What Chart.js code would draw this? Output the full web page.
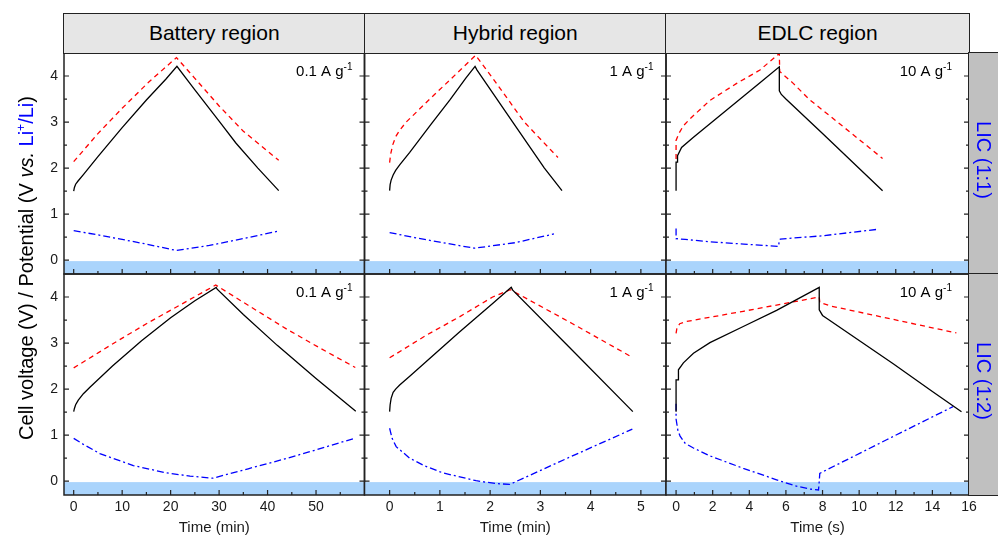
<!DOCTYPE html>
<html>
<head>
<meta charset="utf-8">
<script src="https://cdn.jsdelivr.net/npm/chart.js@4.4.1/dist/chart.umd.min.js"></script>
<style>
body{margin:0;background:#fff;font-family:Arial,"Liberation Sans",sans-serif}
#wrap{position:relative;width:998px;height:538px;overflow:hidden}
canvas{position:absolute;left:0;top:0}
.head{position:absolute;box-sizing:border-box;background:#e6e6e6;border:1.5px solid #222;font-size:21px;text-align:center;color:#000}
.side{position:absolute;box-sizing:border-box;background:#c0c0c0;border:1.5px solid #222;border-right:none}
.rot{position:absolute;white-space:nowrap;text-align:center}
</style>
</head>
<body>
<div id="wrap"></div>
<script>
// facets
var regions = ['Battery region', 'Hybrid region', 'EDLC region']
var cells = ['LIC (1:1)', 'LIC (1:2)']
var rates = ['0.1 A g', '1 A g', '10 A g']
var xTitles = ['Time (min)', 'Time (min)', 'Time (s)']

// tick labels
var yTicks = [0, 1, 2, 3, 4]
var yMinor = [0.5, 1.5, 2.5, 3.5]
var xTicksMin = [0, 10, 20, 30, 40, 50]
var xMinorMin = [5, 15, 25, 35, 45, 55]
var xTicksHyb = [0, 1, 2, 3, 4, 5]
var xMinorHyb = [0.5, 1.5, 2.5, 3.5, 4.5]
var xTicksSec = [0, 2, 4, 6, 8, 10, 12, 14, 16]
var xMinorSec = [1, 3, 5, 7, 9, 11, 13, 15]

// LIC (1:1) - [time, potential]
var batCell11 = [[0,1.50],[0.15,1.58],[0.4,1.65],[0.9,1.72],[2,1.86],[5,2.25],[10,2.88],[15,3.48],[19,3.93],[21.3,4.21],[25,3.70],[30,3.02],[33.5,2.54],[38,2.0],[42.3,1.51]]
var batPos11 = [[0,2.14],[5,2.75],[10,3.3],[15.5,3.87],[21.2,4.40],[25,3.95],[30,3.35],[35,2.8],[42.3,2.17]]
var batNeg11 = [[0,0.64],[5,0.55],[10,0.45],[15,0.35],[21.2,0.21],[28,0.32],[35,0.47],[42.2,0.63]]

var hybCell11 = [[0,1.51],[0.01,1.64],[0.03,1.74],[0.07,1.85],[0.12,1.95],[0.2,2.07],[0.4,2.34],[0.83,2.96],[1.2,3.48],[1.52,3.96],[1.70,4.21],[1.74,4.13],[2.45,3.0],[3.08,2.0],[3.43,1.51]]
var hybPos11 = [[0,2.12],[0.02,2.3],[0.06,2.5],[0.12,2.68],[0.2,2.82],[0.33,3.0],[0.8,3.5],[1.3,4.02],[1.71,4.45],[2.02,4.0],[2.68,3.0],[3.35,2.23]]
var hybNeg11 = [[0,0.60],[0.5,0.49],[1.0,0.39],[1.69,0.26],[2.5,0.38],[3.27,0.57]]

var edlcCell11 = [[0,1.51],[0,2.13],[0.08,2.13],[0.08,2.27],[0.3,2.45],[0.95,2.67],[2.2,3.08],[3.5,3.5],[4.6,3.86],[5.64,4.2],[5.64,3.68],[5.75,3.6],[6.0,3.5],[8,2.75],[11.28,1.51]]
var edlcPos11 = [[0,2.2],[0,2.6],[0.15,2.75],[0.4,2.92],[0.76,3.07],[1.85,3.47],[3.31,3.84],[4.58,4.13],[5.64,4.49],[5.66,4.1],[6.4,3.84],[7.31,3.48],[9.13,2.9],[11.28,2.21]]
var edlcNeg11 = [[0,0.69],[0,0.47],[0.5,0.45],[1.85,0.40],[3.7,0.35],[5.6,0.30],[5.64,0.44],[5.7,0.46],[8,0.53],[11.0,0.67]]

// LIC (1:2)
var batCell12 = [[0,1.51],[0.15,1.58],[0.4,1.66],[0.95,1.76],[2,1.9],[3.35,2.04],[8,2.5],[14,3.05],[20,3.55],[25,3.92],[29.4,4.21],[29.6,4.17],[35,3.62],[42,2.95],[50,2.23],[58.2,1.52]]
var batPos12 = [[0,2.46],[8,2.98],[15,3.42],[22,3.83],[29.3,4.26],[36,3.82],[44,3.3],[51,2.88],[58.1,2.47]]
var batNeg12 = [[0,0.93],[2,0.8],[5.4,0.6],[12.3,0.34],[19.1,0.18],[24,0.11],[28.7,0.065],[36,0.27],[43.1,0.47],[50,0.68],[57.9,0.93]]

var hybCell12 = [[0,1.51],[0.01,1.66],[0.03,1.80],[0.07,1.93],[0.12,2.0],[0.2,2.09],[0.4,2.28],[0.73,2.6],[1.39,3.24],[2.05,3.86],[2.42,4.21],[2.45,4.15],[3.64,2.84],[4.84,1.51]]
var hybPos12 = [[0,2.68],[0.73,3.17],[1.39,3.57],[2.05,4.0],[2.40,4.16],[3.64,3.42],[4.83,2.69]]
var hybNeg12 = [[0,1.15],[0.05,0.93],[0.13,0.75],[0.4,0.50],[0.7,0.33],[1.06,0.18],[1.72,0.01],[2.1,-0.05],[2.39,-0.07],[3.6,0.53],[4.83,1.13]]

var edlcCell12 = [[0,1.51],[0,2.20],[0.13,2.20],[0.13,2.42],[0.4,2.57],[0.95,2.78],[1.85,3.01],[3.67,3.36],[5.49,3.71],[7.82,4.21],[7.82,3.72],[8.0,3.6],[8.22,3.54],[11.86,2.55],[14,1.95],[15.59,1.51]]
var edlcPos12 = [[0,3.21],[0.05,3.33],[0.2,3.42],[0.58,3.47],[3.67,3.69],[7.82,4.0],[7.85,3.88],[8.5,3.8],[15.31,3.22]]
var edlcNeg12 = [[0,1.68],[0,1.35],[0.1,1.1],[0.22,0.98],[0.5,0.82],[0.95,0.72],[1.85,0.55],[3.67,0.28],[5.49,0.03],[6.5,-0.10],[7.31,-0.17],[7.78,-0.19],[7.82,0.0],[7.85,0.17],[11.5,0.9],[15.13,1.62]]

// layout
var colX = [64, 364.5, 666, 969]
var rowY = [53, 274, 495]
var xRange = [[-2, 60], [-0.5, 5.5], [-0.55, 16]]
var xMajor = [xTicksMin, xTicksHyb, xTicksSec]
var xMinor = [xMinorMin, xMinorHyb, xMinorSec]
var rateRight = [12, 12.5, 17]

var series = [
    [[batCell11, batPos11, batNeg11], [hybCell11, hybPos11, hybNeg11], [edlcCell11, edlcPos11, edlcNeg11]],
    [[batCell12, batPos12, batNeg12], [hybCell12, hybPos12, hybNeg12], [edlcCell12, edlcPos12, edlcNeg12]]
]

var wrap = document.getElementById('wrap')

function deco(row, col){
    return {
        id: 'deco' + row + col,
        beforeDatasetsDraw(chart){
            const ctx = chart.ctx, a = chart.chartArea, y = chart.scales.y
            const top = y.getPixelForValue(-0.02)
            ctx.save()
            ctx.fillStyle = 'rgb(170,212,252)'
            ctx.fillRect(a.left, top, a.right - a.left, a.bottom - top)
            ctx.restore()
        },
        afterDatasetsDraw(chart){
            const ctx = chart.ctx, a = chart.chartArea, x = chart.scales.x, y = chart.scales.y
            ctx.save()
            ctx.strokeStyle = '#222'
            ctx.lineWidth = 1.2
            ctx.beginPath()
            yTicks.forEach(v => {
                const p = y.getPixelForValue(v)
                ctx.moveTo(a.left, p); ctx.lineTo(a.left + 5, p)
                ctx.moveTo(a.right, p); ctx.lineTo(a.right - 5, p)
            })
            yMinor.forEach(v => {
                const p = y.getPixelForValue(v)
                ctx.moveTo(a.left, p); ctx.lineTo(a.left + 3, p)
                ctx.moveTo(a.right, p); ctx.lineTo(a.right - 3, p)
            })
            xMajor[col].forEach(v => {
                const p = x.getPixelForValue(v)
                ctx.moveTo(p, a.bottom); ctx.lineTo(p, a.bottom - 5)
            })
            xMinor[col].forEach(v => {
                const p = x.getPixelForValue(v)
                ctx.moveTo(p, a.bottom); ctx.lineTo(p, a.bottom - 3)
            })
            ctx.stroke()
            ctx.lineWidth = 1.5
            ctx.strokeRect(a.left, a.top, a.right - a.left, a.bottom - a.top)

            ctx.fillStyle = '#1a1a1a'
            ctx.font = '14px Arial, "Liberation Sans", sans-serif'
            if(col == 0){
                ctx.textAlign = 'right'
                ctx.textBaseline = 'middle'
                yTicks.forEach(v => ctx.fillText(String(v), a.left - 6, y.getPixelForValue(v)))
            }
            if(row == 1){
                ctx.textAlign = 'center'
                ctx.textBaseline = 'top'
                xMajor[col].forEach(v => ctx.fillText(String(v), x.getPixelForValue(v), a.bottom + 5))
                ctx.font = '15px Arial, "Liberation Sans", sans-serif'
                ctx.textBaseline = 'middle'
                ctx.fillText(xTitles[col], (a.left + a.right) / 2, a.bottom + 33)
            }
            // current density label
            ctx.fillStyle = '#000'
            ctx.textBaseline = 'alphabetic'
            ctx.textAlign = 'left'
            ctx.font = '10px Arial, "Liberation Sans", sans-serif'
            const wSup = ctx.measureText('-1').width
            ctx.font = '15px Arial, "Liberation Sans", sans-serif'
            const wMain = ctx.measureText(rates[col]).width
            const xr = a.right - rateRight[col]
            const base = a.top + 23
            ctx.fillText(rates[col], xr - wSup - wMain, base)
            ctx.font = '10px Arial, "Liberation Sans", sans-serif'
            ctx.fillText('-1', xr - wSup, base - 6)
            ctx.restore()
        }
    }
}

function toXY(arr){
    return arr.map(p => ({x: p[0], y: p[1]}))
}

for(var r = 0; r < 2; r++){
    for(var c = 0; c < 3; c++){
        const cv = document.createElement('canvas')
        cv.width = 998
        cv.height = 538
        wrap.appendChild(cv)
        const s = series[r][c]
        new Chart(cv, {
            type: 'line',
            data: {
                datasets: [
                    {label: 'Cell', data: toXY(s[0]), borderColor: '#000', borderWidth: 1.3},
                    {label: 'Positive', data: toXY(s[1]), borderColor: '#ff0000', borderWidth: 1.3, borderDash: [5, 4]},
                    {label: 'Negative', data: toXY(s[2]), borderColor: '#0000ff', borderWidth: 1.3, borderDash: [7, 3, 2, 3]}
                ]
            },
            options: {
                responsive: false,
                animation: false,
                devicePixelRatio: 1,
                elements: {point: {radius: 0}, line: {tension: 0}},
                layout: {padding: {left: colX[c], right: 998 - colX[c + 1], top: rowY[r], bottom: 538 - rowY[r + 1]}},
                scales: {
                    x: {type: 'linear', min: xRange[c][0], max: xRange[c][1], display: false},
                    y: {type: 'linear', min: -0.3, max: 4.5, display: false}
                },
                plugins: {legend: {display: false}, tooltip: {enabled: false}}
            },
            plugins: [deco(r, c)]
        })
    }
}

// header strips
for(var c = 0; c < 3; c++){
    const d = document.createElement('div')
    d.className = 'head'
    d.style.left = (colX[c] - 0.75) + 'px'
    d.style.top = '12.5px'
    d.style.width = (colX[c + 1] - colX[c] + 1.5) + 'px'
    d.style.height = '41px'
    d.style.lineHeight = '38px'
    d.textContent = regions[c]
    wrap.appendChild(d)
}
// side strips
for(var r = 0; r < 2; r++){
    const d = document.createElement('div')
    d.className = 'side'
    d.style.left = (colX[3] - 0.75) + 'px'
    d.style.top = (rowY[r] - 0.75) + 'px'
    d.style.width = '40px'
    d.style.height = (rowY[r + 1] - rowY[r] + 1.5) + 'px'
    wrap.appendChild(d)
    const t = document.createElement('div')
    t.className = 'rot'
    const h = rowY[r + 1] - rowY[r]
    t.style.width = h + 'px'
    t.style.height = '24px'
    t.style.lineHeight = '24px'
    t.style.fontSize = '20px'
    t.style.color = '#0000ff'
    t.style.left = (983.5 - h / 2) + 'px'
    t.style.top = ((rowY[r] + rowY[r + 1]) / 2 - 16) + 'px'
    t.style.transform = 'rotate(90deg)'
    t.textContent = cells[r]
    wrap.appendChild(t)
}
// y title
var yt = document.createElement('div')
yt.className = 'rot'
yt.style.width = '442px'
yt.style.height = '26px'
yt.style.lineHeight = '26px'
yt.style.fontSize = '20px'
yt.style.left = (21 - 221) + 'px'
yt.style.top = (268 - 13) + 'px'
yt.style.transform = 'rotate(-90deg)'
yt.innerHTML = 'Cell voltage (V) / Potential (V <i>vs.</i> <span style="color:#0000ff">Li<sup style="font-size:12px">+</sup>/Li</span>)'
wrap.appendChild(yt)
</script>
</body>
</html>
